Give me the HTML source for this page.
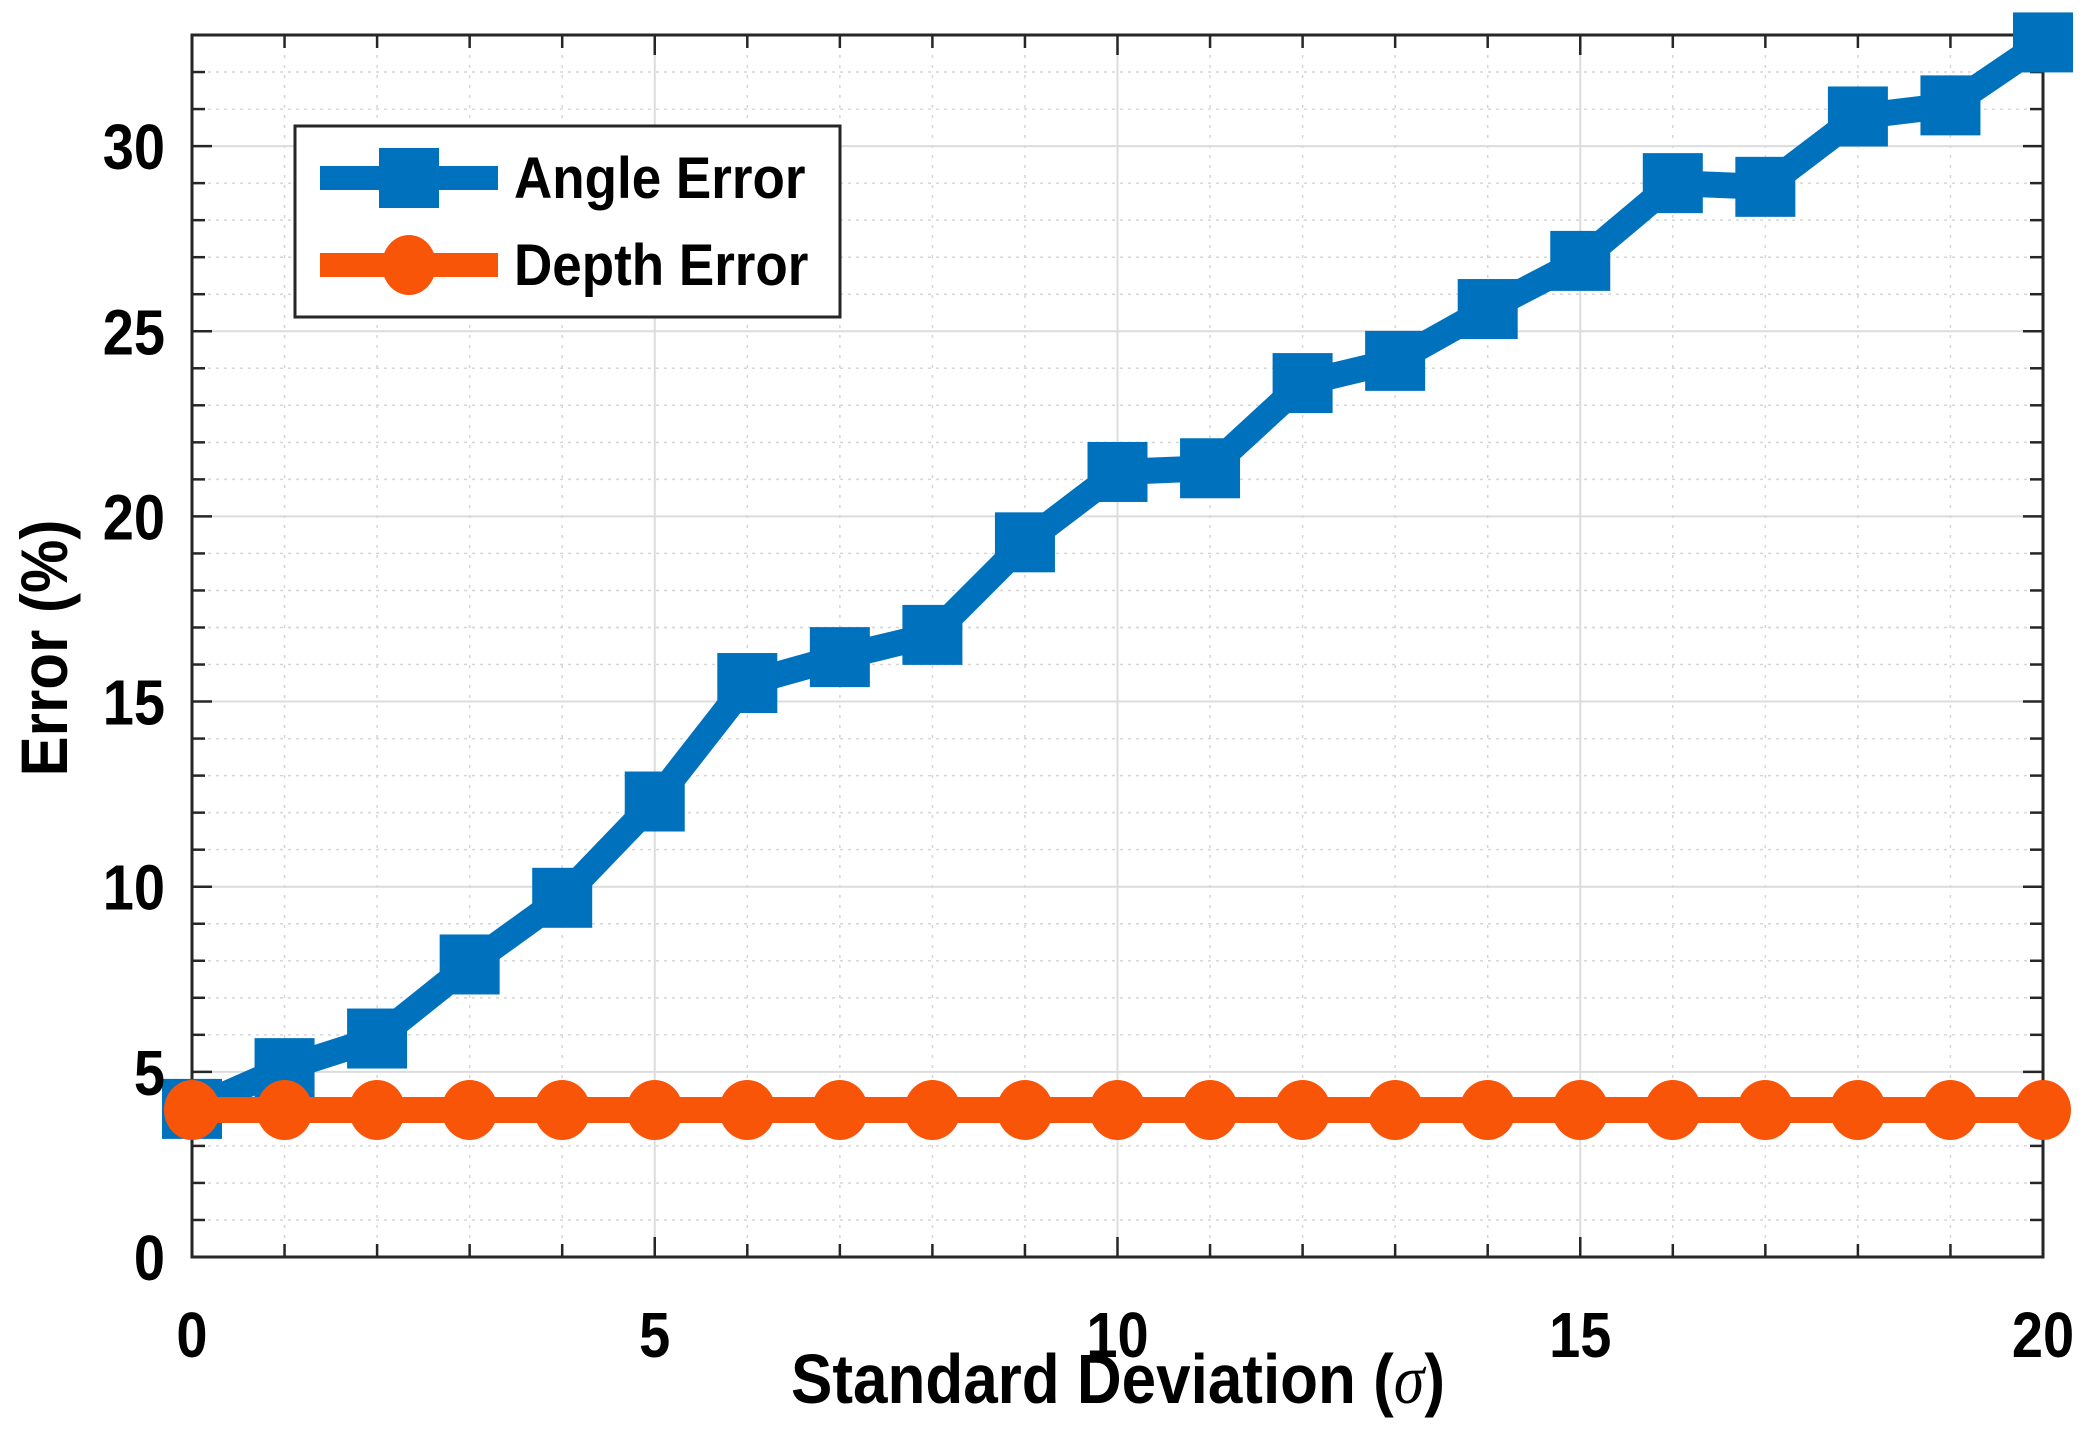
<!DOCTYPE html>
<html><head><meta charset="utf-8"><style>html,body{margin:0;padding:0;background:#fff}svg{display:block}</style></head>
<body>
<svg width="2095" height="1436" viewBox="0 0 2095 1436" xmlns="http://www.w3.org/2000/svg" font-family="Liberation Sans, Arial, sans-serif" font-weight="bold">
<rect width="2095" height="1436" fill="#fff"/>
<g id="grid"></g>
<g id="ticks"></g>
<rect x="192" y="35" width="1851" height="1222" fill="none" stroke="#262626" stroke-width="3"/>
<g id="series"></g>
<g id="labels" font-size="56" fill="#000"></g>
<text transform="translate(1118,1403) scale(1,1.12)" font-size="62" text-anchor="middle">Standard Deviation (<tspan font-family="Liberation Serif, serif" font-style="italic" font-weight="normal">σ</tspan>)</text>
<text transform="translate(67,648) rotate(-90) scale(1,1.1)" font-size="60" text-anchor="middle">Error (%)</text>
<g>
<rect x="295" y="126" width="545" height="191" fill="#fff" stroke="#262626" stroke-width="3"/>
<line x1="320" y1="178" x2="498" y2="178" stroke="#0072BD" stroke-width="24"/>
<rect x="379" y="148" width="60" height="60" fill="#0072BD"/>
<line x1="320" y1="265" x2="498" y2="265" stroke="#F85508" stroke-width="24"/>
<ellipse cx="409" cy="265" rx="27" ry="30" fill="#F85508"/>
<text transform="translate(514,198) scale(1,1.1)" font-size="53">Angle Error</text>
<text transform="translate(514,285) scale(1,1.1)" font-size="53">Depth Error</text>
</g>
<script>
(function(){
var NS="http://www.w3.org/2000/svg";
function X(i){return 192+92.55*i}
function Y(v){return 1257-37.03*v}
function el(p,t,a){var e=document.createElementNS(NS,t);for(var k in a)e.setAttribute(k,a[k]);p.appendChild(e);return e}
var g=document.getElementById('grid'),tk=document.getElementById('ticks'),s=document.getElementById('series'),lb=document.getElementById('labels');
for(var i=1;i<20;i++){var x=X(i);if(i%5==0)el(g,'line',{x1:x,y1:35,x2:x,y2:1257,stroke:'#dcdcdc','stroke-width':2});else el(g,'line',{x1:x,y1:35,x2:x,y2:1257,stroke:'#d6d6d6','stroke-width':1.5,'stroke-dasharray':'3 7'});}
for(var v=1;v<=33;v++){var y=Y(v);if(v%5==0)el(g,'line',{x1:192,y1:y,x2:2043,y2:y,stroke:'#dcdcdc','stroke-width':2});else el(g,'line',{x1:192,y1:y,x2:2043,y2:y,stroke:'#d6d6d6','stroke-width':1.5,'stroke-dasharray':'3 5'});}
for(var i=0;i<=20;i++){var x=X(i),L=i%5==0?20:13;el(tk,'line',{x1:x,y1:1257,x2:x,y2:1257-L,stroke:'#262626','stroke-width':2.5});el(tk,'line',{x1:x,y1:35,x2:x,y2:35+L,stroke:'#262626','stroke-width':2.5});}
for(var v=0;v<=33;v++){var y=Y(v),L=v%5==0?20:13;el(tk,'line',{x1:192,y1:y,x2:192+L,y2:y,stroke:'#262626','stroke-width':2.5});el(tk,'line',{x1:2043,y1:y,x2:2043-L,y2:y,stroke:'#262626','stroke-width':2.5});}
var a=[4.0,5.1,5.9,7.9,9.7,12.3,15.5,16.2,16.8,19.3,21.2,21.3,23.6,24.2,25.6,26.9,29.0,28.9,30.8,31.1,32.8];
var pts=a.map(function(v,i){return X(i)+','+Y(v)}).join(' ');
el(s,'polyline',{points:pts,fill:'none',stroke:'#0072BD','stroke-width':26,'stroke-linejoin':'miter'});
a.forEach(function(v,i){el(s,'rect',{x:X(i)-30,y:Y(v)-30,width:60,height:60,fill:'#0072BD'})});
el(s,'line',{x1:X(0),y1:Y(3.97),x2:X(20),y2:Y(3.97),stroke:'#F85508','stroke-width':26});
for(var i=0;i<=20;i++)el(s,'ellipse',{cx:X(i),cy:Y(3.97),rx:28,ry:30,fill:'#F85508'});
for(var v=0;v<=30;v+=5){var t=el(lb,'text',{transform:'translate(165,'+(Y(v)+23)+') scale(1,1.15)','text-anchor':'end'});t.textContent=v;}
for(var i=0;i<=20;i+=5){var t=el(lb,'text',{transform:'translate('+X(i)+',1357) scale(1,1.15)','text-anchor':'middle'});t.textContent=i;}
})();
</script>
</svg>
</body></html>
